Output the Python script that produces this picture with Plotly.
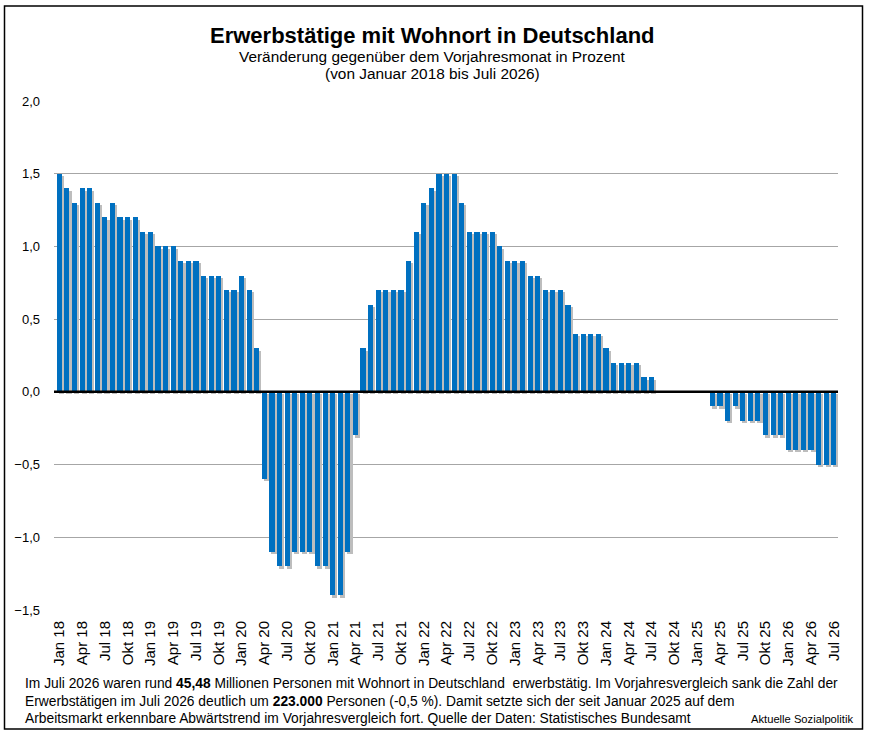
import plotly.graph_objects as go

# Veränderung gegenüber Vorjahresmonat in %, Jan 2018 bis Jul 2026
v2018 = [1.5, 1.4, 1.3, 1.4, 1.4, 1.3, 1.2, 1.3, 1.2, 1.2, 1.2, 1.1]
v2019 = [1.1, 1.0, 1.0, 1.0, 0.9, 0.9, 0.9, 0.8, 0.8, 0.8, 0.7, 0.7]
v2020 = [0.8, 0.7, 0.3, -0.6, -1.1, -1.2, -1.2, -1.1, -1.1, -1.1, -1.2, -1.2]
v2021 = [-1.4, -1.4, -1.1, -0.3, 0.3, 0.6, 0.7, 0.7, 0.7, 0.7, 0.9, 1.1]
v2022 = [1.3, 1.4, 1.5, 1.5, 1.5, 1.3, 1.1, 1.1, 1.1, 1.1, 1.0, 0.9]
v2023 = [0.9, 0.9, 0.8, 0.8, 0.7, 0.7, 0.7, 0.6, 0.4, 0.4, 0.4, 0.4]
v2024 = [0.3, 0.2, 0.2, 0.2, 0.2, 0.1, 0.1, 0.0, 0.0, 0.0, 0.0, 0.0]
v2025 = [0.0, 0.0, -0.1, -0.1, -0.2, -0.1, -0.2, -0.2, -0.2, -0.3, -0.3, -0.3]
v2026 = [-0.4, -0.4, -0.4, -0.4, -0.5, -0.5, -0.5]

years = ["18", "19", "20", "21", "22", "23", "24", "25", "26"]
tick_months = ["Jan", "Apr", "Jul", "Okt"]

values = v2018 + v2019 + v2020 + v2021 + v2022 + v2023 + v2024 + v2025 + v2026
xs = list(range(len(values)))

tickvals = xs[::3]
ticktext = []
for y in years:
    for m in tick_months:
        ticktext.append(m + " " + y)
ticktext = ticktext[:len(tickvals)]

W, H = 875, 735
L, R, T, B = 54, 37, 101, 125
pw, ph = W - L - R, H - T - B


def px(x):
    return (x - L) / pw


def py(y):
    return (H - B - y) / ph


FONT = "Arial, Liberation Sans, sans-serif"
BLUE = "#0070C0"

fig = go.Figure()

# soft grey shadow behind each bar
fig.add_trace(go.Bar(
    x=xs, y=values, base=-0.016, width=0.68, offset=-0.06,
    marker=dict(color="#BDBDBD", line=dict(width=0)),
    hoverinfo="skip", showlegend=False,
))
fig.add_trace(go.Bar(
    x=xs, y=values, width=0.68, offset=-0.34,
    marker=dict(color=BLUE, line=dict(width=0)),
    showlegend=False,
))

fig.update_layout(
    width=W, height=H,
    margin=dict(l=L, r=R, t=T, b=B),
    paper_bgcolor="white", plot_bgcolor="white",
    barmode="overlay", bargap=0,
    separators=",.",
    font=dict(family=FONT, color="black"),
)

fig.update_xaxes(
    range=[-0.7, 102.55],
    tickvals=tickvals, ticktext=ticktext,
    tickangle=-90, tickfont=dict(size=15),
    showgrid=False, zeroline=False, showline=False,
    ticks="", ticklabelstandoff=7,
)
fig.update_yaxes(
    range=[-1.5, 2.0], dtick=0.5, tickformat=".1f",
    tickfont=dict(size=13),
    showgrid=True, gridcolor="#A6A6A6", gridwidth=1,
    zeroline=False, showline=False, ticks="", ticklabelstandoff=13,
)

# black zero line above the bars
fig.add_shape(type="line", xref="paper", yref="y", x0=0, x1=1, y0=0, y1=0,
              line=dict(color="black", width=2.5), layer="above")

# frame around the whole graphic
fig.add_shape(type="rect", xref="paper", yref="paper",
              x0=px(4.5), x1=px(862.5), y0=py(6), y1=py(729),
              line=dict(color="black", width=1.5), fillcolor="rgba(0,0,0,0)")

ann = [
    dict(text="<b>Erwerbstätige mit Wohnort in Deutschland</b>", x=px(432), y=py(35), size=22,
         xanchor="center"),
    dict(text="Veränderung gegenüber dem Vorjahresmonat in Prozent", x=px(432), y=py(57), size=15.4,
         xanchor="center"),
    dict(text="(von Januar 2018 bis Juli 2026)", x=px(432), y=py(74), size=15.4, xanchor="center"),
    dict(text="Im Juli 2026 waren rund <b>45,48</b> Millionen Personen mit Wohnort in Deutschland  "
              "erwerbstätig. Im Vorjahresvergleich sank die Zahl der",
         x=px(23), y=py(683), size=13.8, xanchor="left"),
    dict(text="Erwerbstätigen im Juli 2026 deutlich um <b>223.000</b> Personen (-0,5 %). "
              "Damit setzte sich der seit Januar 2025 auf dem",
         x=px(23), y=py(701), size=13.8, xanchor="left"),
    dict(text="Arbeitsmarkt erkennbare Abwärtstrend im Vorjahresvergleich fort. "
              "Quelle der Daten: Statistisches Bundesamt",
         x=px(23), y=py(718), size=13.8, xanchor="left"),
    dict(text="Aktuelle Sozialpolitik", x=px(855), y=py(719), size=11.2, xanchor="right"),
]
for a in ann:
    fig.add_annotation(text=a["text"], x=a["x"], y=a["y"], xref="paper", yref="paper",
                       xanchor=a["xanchor"], yanchor="middle", showarrow=False,
                       font=dict(size=a["size"], family=FONT, color="black"))

# page margin off so the graphic sits at the window's corner
fig.write_html("out.html", config={"displayModeBar": False},
               post_script="document.body.style.margin='0';")
